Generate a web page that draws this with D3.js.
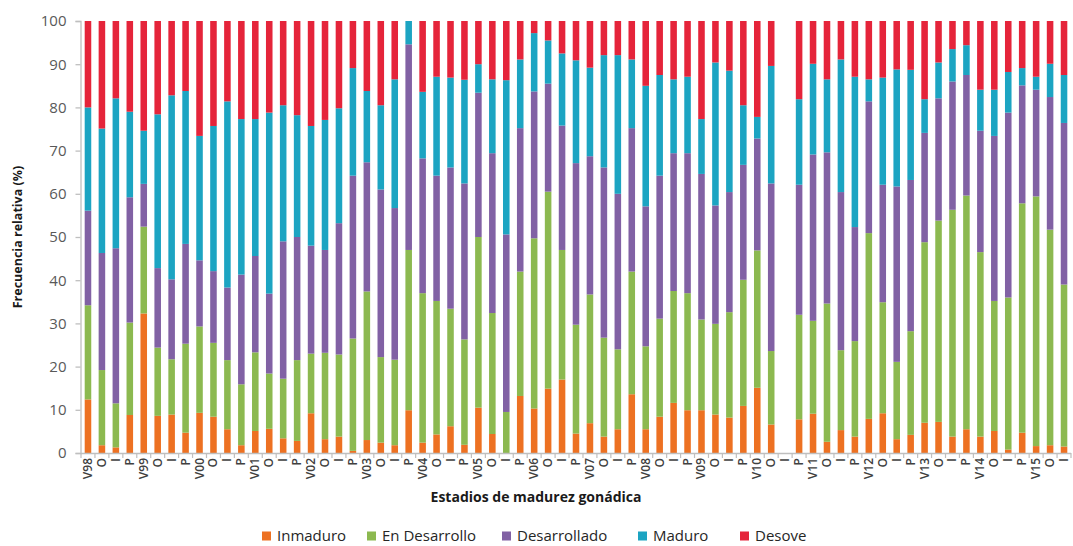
<!DOCTYPE html>
<html>
<head>
<meta charset="utf-8">
<script src="https://cdn.jsdelivr.net/npm/d3@7"></script>
<style>
  html, body { margin: 0; padding: 0; background: #fff; }
  svg { display: block; }
</style>
</head>
<body>
<svg id="chart" width="1073" height="546"></svg>
<script>
// Seasonal sampling periods (V = verano, O = otoño, I = invierno, P = primavera), 1998–2015
const periodLabels = [
  "V98","O","I","P","V99","O","I","P","V00","O","I","P",
  "V01","O","I","P","V02","O","I","P","V03","O","I","P",
  "V04","O","I","P","V05","O","I","P","V06","O","I","P",
  "V07","O","I","P","V08","O","I","P","V09","O","I","P",
  "V10","O","I","P","V11","O","I","P","V12","O","I","P",
  "V13","O","I","P","V14","O","I","P","V15","O","I"
];

// Percentage of each gonadal maturity stage per period (null = no sample)
const inmaduro = [
  12.4,1.8,1.3,8.8, 32.3,8.6,8.9,4.7, 9.3,8.4,5.5,1.8,
  5.1,5.6,3.4,2.8, 9.2,3.2,3.8,0.5, 3.0,2.4,1.8,9.9,
  2.4,4.3,6.2,1.9, 10.5,4.4,0,13.2, 10.3,14.9,17.0,4.5,
  6.9,3.8,5.5,13.6, 5.5,8.4,11.6,9.9, 9.9,8.9,8.2,10.9,
  15.1,6.6,null,7.8, 9.1,2.6,5.3,3.8, 7.9,9.2,3.2,4.2,
  7.0,7.2,3.8,5.5, 3.8,5.1,0.8,4.7, 1.6,1.8,1.5
];
const enDesarrollo = [
  21.8,17.4,10.2,21.4, 20.1,15.8,12.8,20.6, 20.0,17.1,16.0,14.1,
  18.2,12.8,13.8,18.7, 13.8,20.0,19.0,26.0, 34.4,19.8,19.8,37.1,
  34.6,30.9,27.2,24.4, 39.5,28.0,9.5,28.8, 39.4,45.6,30.0,25.2,
  29.8,22.9,18.5,28.4, 19.2,22.7,25.9,27.1, 21.0,21.0,24.4,29.2,
  31.8,17.0,null,24.2, 21.5,32.0,18.5,22.1, 43.0,25.7,17.9,24.0,
  41.8,46.6,52.5,54.1, 42.7,30.1,35.2,53.1, 57.8,49.9,37.5
];
const desarrollado = [
  21.9,27.1,35.9,29.0, 9.9,18.4,18.5,23.1, 15.3,16.6,16.8,25.4,
  22.3,18.5,31.8,28.5, 25.0,23.8,30.4,37.7, 29.9,38.8,35.1,47.6,
  31.2,29.0,32.7,36.1, 33.4,37.0,41.1,33.2, 34.0,25.0,28.8,37.4,
  32.0,39.4,36.0,33.2, 32.4,33.1,31.9,32.4, 33.7,27.4,27.8,26.6,
  25.9,38.8,null,30.1, 38.5,35.0,36.6,26.4, 30.5,27.2,40.6,35.0,
  25.3,28.3,29.7,27.9, 28.1,38.2,42.8,27.3, 24.7,30.7,37.4
];
const maduro = [
  23.9,28.8,34.7,19.8, 12.3,35.6,42.6,35.4, 28.8,33.6,43.1,36.0,
  31.7,41.9,31.5,28.2, 27.7,30.1,26.6,24.9, 16.5,19.5,29.8,5.4,
  15.4,22.9,20.8,24.0, 6.6,17.1,35.7,15.9, 13.5,10.0,16.7,23.8,
  20.5,26.0,32.1,15.9, 27.9,23.3,17.1,17.7, 12.7,33.1,28.1,13.8,
  5.0,27.2,null,19.8, 21.0,16.9,30.7,34.8, 5.1,24.8,27.1,25.5,
  7.8,8.3,7.5,6.9, 9.5,10.7,9.4,4.0, 3.0,7.7,11.1
];
const desove = [
  20.0,24.9,17.9,21.0, 25.4,21.6,17.2,16.2, 26.6,24.3,18.6,22.7,
  22.7,21.2,19.5,21.8, 24.3,22.9,20.2,10.9, 16.2,19.5,13.5,0,
  16.4,12.9,13.1,13.6, 10.0,13.5,13.7,8.9, 2.8,4.5,7.5,9.1,
  10.8,7.9,7.9,8.9, 15.0,12.5,13.5,12.9, 22.7,9.6,11.5,19.5,
  22.2,10.4,null,18.1, 9.9,13.5,8.9,12.9, 13.5,13.1,11.2,11.3,
  18.1,9.6,6.5,5.6, 15.9,15.9,11.8,10.9, 12.9,9.9,12.5
];

const stageNames = ["Inmaduro", "En Desarrollo", "Desarrollado", "Maduro", "Desove"];
const stageValues = [inmaduro, enDesarrollo, desarrollado, maduro, desove];
const stageColors = ["#ED7122", "#8CB950", "#8161A4", "#1CA4C2", "#E5243A"];
const yTicks = [0, 10, 20, 30, 40, 50, 60, 70, 80, 90, 100];

// Table of rows for d3.stack
const rows = periodLabels.map((lab, i) => {
  const r = { idx: i, label: lab };
  stageNames.forEach((s, k) => { r[s] = stageValues[k][i] == null ? 0 : stageValues[k][i]; });
  return r;
});

const svg = d3.select("#chart");
const plot = { left: 81, right: 1071, top: 21, bottom: 453 };

const x = d3.scaleBand()
  .domain(d3.range(periodLabels.length))
  .range([plot.left, plot.right])
  .paddingInner(0.53)
  .paddingOuter(0.265);

const y = d3.scaleLinear().domain([0, 100]).range([plot.bottom, plot.top]);
const color = d3.scaleOrdinal().domain(stageNames).range(stageColors);

const series = d3.stack().keys(stageNames)(rows);

// Stacked bars
svg.append("g")
  .selectAll("g")
  .data(series)
  .join("g")
    .attr("fill", d => color(d.key))
  .selectAll("rect")
  .data(d => d)
  .join("rect")
    .attr("x", d => x(d.data.idx))
    .attr("width", x.bandwidth())
    .attr("y", d => y(d[1]))
    .attr("height", d => Math.max(0, y(d[0]) - y(d[1])));

// Y axis
const yAxis = svg.append("g")
  .attr("transform", `translate(${plot.left - 0.5},0)`)
  .call(d3.axisLeft(y).tickValues(yTicks).tickSize(5).tickPadding(9));
yAxis.select(".domain").attr("stroke", "#BFBFBF").attr("stroke-width", 1.3);
yAxis.selectAll(".tick line").attr("stroke", "#BFBFBF").attr("stroke-width", 1.3);
yAxis.selectAll(".tick text")
  .attr("fill", "#595959")
  .style("font-family", "'Open Sans', sans-serif")
  .style("font-size", "15px");

// X axis: baseline, separators between periods, rotated period labels
const xAxis = svg.append("g");
xAxis.append("line")
  .attr("x1", plot.left).attr("x2", plot.right)
  .attr("y1", plot.bottom + 0.5).attr("y2", plot.bottom + 0.5)
  .attr("stroke", "#BFBFBF").attr("stroke-width", 1.3);
const step = x.step();
xAxis.selectAll("line.sep")
  .data(d3.range(periodLabels.length + 1))
  .join("line")
    .attr("class", "sep")
    .attr("x1", i => plot.left + i * step)
    .attr("x2", i => plot.left + i * step)
    .attr("y1", plot.bottom)
    .attr("y2", plot.bottom + 5)
    .attr("stroke", "#BFBFBF").attr("stroke-width", 1.2);
xAxis.selectAll("text")
  .data(rows)
  .join("text")
    .attr("transform", d => `translate(${x(d.idx) + x.bandwidth() / 2 + 4},${plot.bottom + 5}) rotate(-90)`)
    .attr("text-anchor", "end")
    .attr("fill", "#404040")
    .style("font-family", "'Open Sans', sans-serif")
    .style("font-size", "12px")
    .style("font-weight", "600")
    .text(d => d.label);

// Axis titles
svg.append("text")
  .attr("transform", "translate(22,237) rotate(-90)")
  .attr("text-anchor", "middle")
  .attr("fill", "#1a1a1a")
  .style("font-family", "'Open Sans', sans-serif")
  .style("font-size", "12.5px")
  .style("font-weight", "700")
  .text("Frecuencia relativa (%)");

svg.append("text")
  .attr("x", 536).attr("y", 502)
  .attr("text-anchor", "middle")
  .attr("fill", "#1a1a1a")
  .style("font-family", "'Open Sans', sans-serif")
  .style("font-size", "14px")
  .style("font-weight", "700")
  .text("Estadios de madurez gonádica");

// Legend
const legendX = [262, 367, 502, 638, 740];
const legend = svg.append("g")
  .selectAll("g")
  .data(stageNames)
  .join("g")
    .attr("transform", (d, i) => `translate(${legendX[i]},536)`);
legend.append("rect")
  .attr("x", 0).attr("y", -4.5)
  .attr("width", 9).attr("height", 9)
  .attr("fill", d => color(d));
legend.append("text")
  .attr("x", 15).attr("y", 0)
  .attr("dy", "0.35em")
  .attr("fill", "#262626")
  .style("font-family", "'Open Sans', sans-serif")
  .style("font-size", "15px")
  .text(d => d);
</script>
</body>
</html>
